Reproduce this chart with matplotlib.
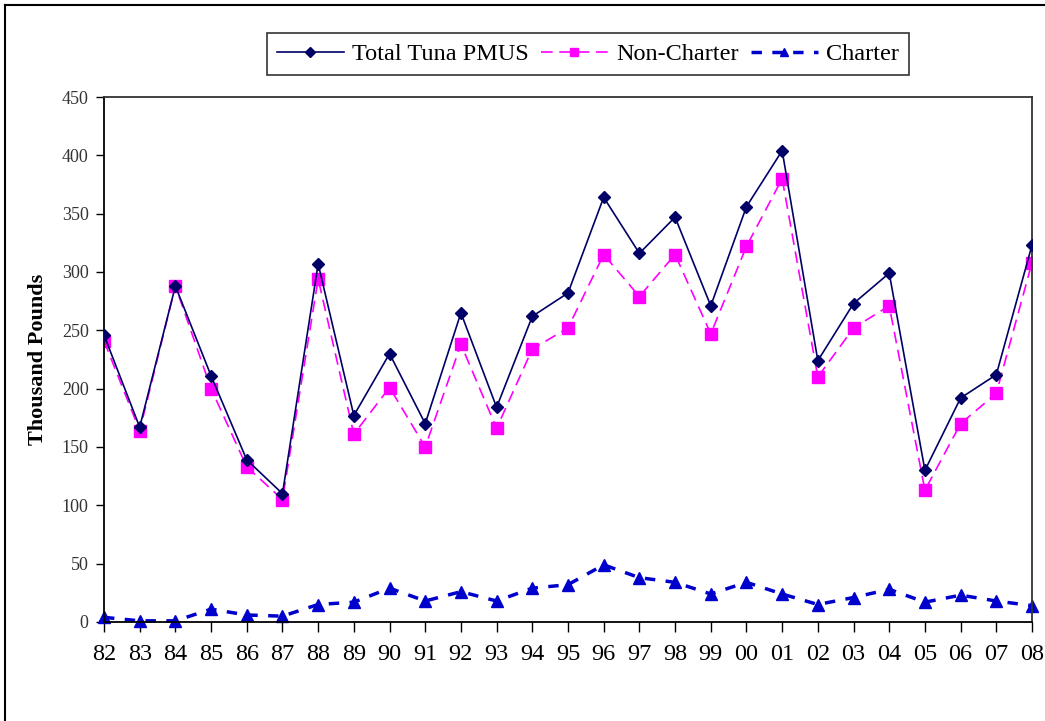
import matplotlib
matplotlib.use("Agg")
import matplotlib.pyplot as plt
from matplotlib.lines import Line2D

years = ["82", "83", "84", "85", "86", "87", "88", "89", "90", "91", "92", "93", "94",
         "95", "96", "97", "98", "99", "00", "01", "02", "03", "04", "05", "06", "07", "08"]
total = [246, 167, 288, 211, 139, 110, 307, 177, 230, 170, 265, 184, 262,
         282, 364, 316, 347, 271, 356, 404, 224, 273, 299, 130, 192, 212, 323]
non_charter = [241, 164, 288, 200, 133, 105, 294, 161, 201, 150, 238, 166, 234,
               252, 315, 279, 315, 247, 322, 380, 210, 252, 271, 113, 170, 196, 308]
charter = [4, 1, 1, 11, 6, 5, 15, 17, 29, 18, 26, 18, 29,
           32, 49, 38, 34, 24, 34, 24, 15, 21, 28, 17, 23, 18, 14]
y_ticks = [0, 50, 100, 150, 200, 250, 300, 350, 400, 450]

plt.rcParams['font.family'] = ['Liberation Serif', 'DejaVu Serif']

W, H = 1045, 721
fig = plt.figure(figsize=(W / 100, H / 100), dpi=100)
ax = fig.add_axes([104 / W, 1 - 622 / H, (1032 - 104) / W, (622 - 97) / H])

x = list(range(len(years)))
ax.plot(x, total, color="#000066", lw=1.2, marker="D", ms=6.5,
        label="Total Tuna PMUS", zorder=3)
ax.plot(x, non_charter, color="#FF00FF", lw=1.2, ls=(0, (7, 4)), marker="s", ms=8,
        mec="#FF00FF", label="Non-Charter", zorder=2)
ax.plot(x, charter, color="#0000CC", lw=2.5, ls=(0, (3, 3)), marker="^", ms=8,
        label="Charter", zorder=2, clip_on=False)

ax.set_xlim(0, len(years) - 1)
ax.set_ylim(0, 450)
ax.set_yticks(y_ticks)
ax.set_yticklabels([str(v) for v in y_ticks], fontsize=13, color="#333333")
ax.set_xticks(x)
ax.set_xticklabels(years, fontsize=17.5)
ax.tick_params(axis="x", direction="out", length=7, width=1, pad=9, color="black")
ax.tick_params(axis="y", direction="out", length=6, width=1, pad=5, color="black")
for s in ax.spines.values():
    s.set_color("#333333")
    s.set_linewidth(1.3)
ax.spines["left"].set_color("black")
ax.spines["bottom"].set_color("black")

ax.set_ylabel("Thousand Pounds", fontsize=16, fontweight="bold", labelpad=10)

leg = fig.legend(loc="center", bbox_to_anchor=(588 / W, 1 - 54 / H), ncol=3,
                 fontsize=17.5, frameon=True, fancybox=False, handlelength=2.75,
                 columnspacing=0.5, handletextpad=0.35, borderpad=0.4,
                 markerscale=0.75, borderaxespad=0)
leg.get_frame().set_edgecolor("black")
leg.get_frame().set_linewidth(1.2)

# figure outer border (left and top)
fig.add_artist(Line2D([5 / W, 5 / W], [0, 1 - 5 / H], transform=fig.transFigure,
                      color="black", lw=1.5))
fig.add_artist(Line2D([5 / W, 1], [1 - 5 / H, 1 - 5 / H], transform=fig.transFigure,
                      color="black", lw=1.5))

fig.savefig("out.png", dpi=100)
